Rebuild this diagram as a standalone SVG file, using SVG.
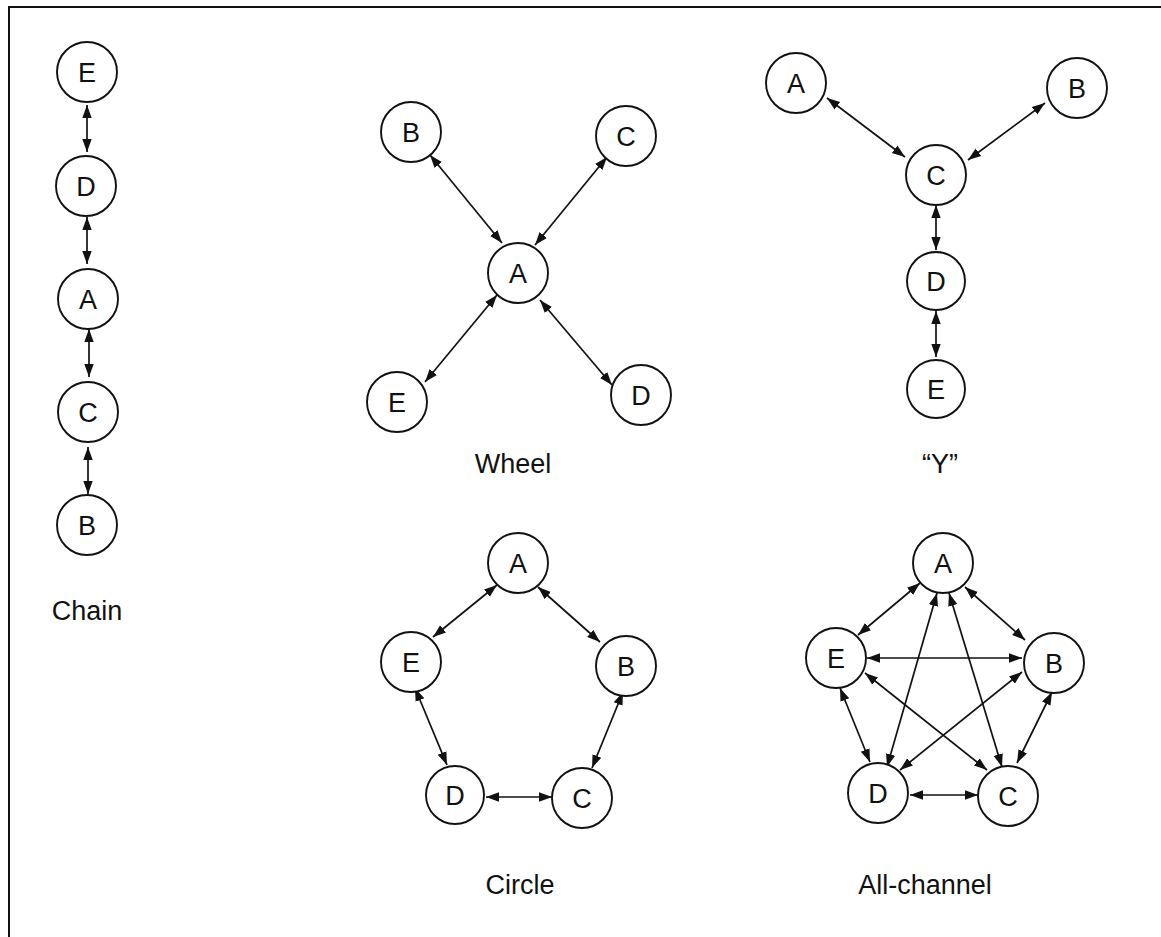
<svg xmlns="http://www.w3.org/2000/svg" width="1161" height="937" viewBox="0 0 1161 937">
<style>
.n circle{fill:#fff;stroke:#111;stroke-width:1.9}
.n text{font-family:"Liberation Sans",Arial,sans-serif;font-size:27px;fill:#111;text-anchor:middle}
.lbl{font-family:"Liberation Sans",Arial,sans-serif;font-size:27px;fill:#111;text-anchor:middle}
.c line{stroke:#111;stroke-width:1.7;marker-start:url(#ah);marker-end:url(#ah)}
</style>
<defs>
<marker id="ah" markerWidth="14" markerHeight="11" refX="13" refY="5.5" orient="auto-start-reverse" markerUnits="userSpaceOnUse"><path d="M0,0.8 L13,5.5 L0,10.2 z" fill="#111"/></marker>
</defs>
<rect width="1161" height="937" fill="#fff"/>
<g id="frame" stroke="#111" stroke-width="2" fill="none">
<line x1="8" y1="7" x2="1161" y2="7"/>
<line x1="9" y1="6" x2="9" y2="937"/>
</g>
<g id="connectors" class="c">
<line x1="87" y1="105" x2="87" y2="152"/>
<line x1="87" y1="217" x2="87" y2="264"/>
<line x1="89" y1="329" x2="89" y2="377"/>
<line x1="88" y1="447" x2="88" y2="494"/>
<line x1="430" y1="155" x2="502" y2="243"/>
<line x1="607" y1="157" x2="535" y2="245"/>
<line x1="497" y1="295" x2="425" y2="382"/>
<line x1="540" y1="300" x2="612" y2="385"/>
<line x1="827" y1="98" x2="905" y2="157"/>
<line x1="1045" y1="103" x2="968" y2="160"/>
<line x1="936" y1="205" x2="936" y2="250"/>
<line x1="936" y1="311" x2="936" y2="357"/>
<line x1="497" y1="585" x2="433" y2="637"/>
<line x1="538" y1="587" x2="600" y2="642"/>
<line x1="415" y1="688" x2="447" y2="765"/>
<line x1="623" y1="692" x2="592" y2="768"/>
<line x1="486" y1="797" x2="552" y2="797"/>
<line x1="920" y1="583" x2="858" y2="635"/>
<line x1="965" y1="587" x2="1025" y2="640"/>
<line x1="867" y1="658" x2="1022" y2="658"/>
<line x1="937" y1="593" x2="887" y2="767"/>
<line x1="949" y1="593" x2="1002" y2="767"/>
<line x1="865" y1="673" x2="987" y2="770"/>
<line x1="1022" y1="672" x2="900" y2="770"/>
<line x1="840" y1="688" x2="870" y2="762"/>
<line x1="1052" y1="692" x2="1017" y2="763"/>
<line x1="910" y1="795" x2="978" y2="795"/>
</g>
<g id="chain-E" class="n"><circle cx="87" cy="72" r="30"/><text x="87" y="82">E</text></g>
<g id="chain-D" class="n"><circle cx="86" cy="186" r="30"/><text x="86" y="196">D</text></g>
<g id="chain-A" class="n"><circle cx="88" cy="299" r="30"/><text x="88" y="309">A</text></g>
<g id="chain-C" class="n"><circle cx="88" cy="412" r="30"/><text x="88" y="422">C</text></g>
<g id="chain-B" class="n"><circle cx="87" cy="525" r="30"/><text x="87" y="535">B</text></g>
<g id="wheel-B" class="n"><circle cx="411" cy="132" r="30"/><text x="411" y="142">B</text></g>
<g id="wheel-C" class="n"><circle cx="626" cy="136" r="30"/><text x="626" y="146">C</text></g>
<g id="wheel-A" class="n"><circle cx="518" cy="273" r="30"/><text x="518" y="283">A</text></g>
<g id="wheel-E" class="n"><circle cx="397" cy="402" r="30"/><text x="397" y="412">E</text></g>
<g id="wheel-D" class="n"><circle cx="641" cy="395" r="30"/><text x="641" y="405">D</text></g>
<g id="y-A" class="n"><circle cx="796" cy="83" r="30"/><text x="796" y="93">A</text></g>
<g id="y-B" class="n"><circle cx="1077" cy="88" r="30"/><text x="1077" y="98">B</text></g>
<g id="y-C" class="n"><circle cx="936" cy="175" r="30"/><text x="936" y="185">C</text></g>
<g id="y-D" class="n"><circle cx="936" cy="281" r="29"/><text x="936" y="291">D</text></g>
<g id="y-E" class="n"><circle cx="936" cy="389" r="29"/><text x="936" y="399">E</text></g>
<g id="circle-A" class="n"><circle cx="518" cy="563" r="30"/><text x="518" y="573">A</text></g>
<g id="circle-E" class="n"><circle cx="411" cy="662" r="30"/><text x="411" y="672">E</text></g>
<g id="circle-B" class="n"><circle cx="626" cy="666" r="30"/><text x="626" y="676">B</text></g>
<g id="circle-D" class="n"><circle cx="455" cy="795" r="29"/><text x="455" y="805">D</text></g>
<g id="circle-C" class="n"><circle cx="582" cy="798" r="30"/><text x="582" y="808">C</text></g>
<g id="all-A" class="n"><circle cx="943" cy="563" r="30"/><text x="943" y="573">A</text></g>
<g id="all-E" class="n"><circle cx="836" cy="658" r="30"/><text x="836" y="668">E</text></g>
<g id="all-B" class="n"><circle cx="1054" cy="663" r="30"/><text x="1054" y="673">B</text></g>
<g id="all-D" class="n"><circle cx="878" cy="793" r="30"/><text x="878" y="803">D</text></g>
<g id="all-C" class="n"><circle cx="1008" cy="796" r="30"/><text x="1008" y="806">C</text></g>
<g id="labels">
<text class="lbl" x="87" y="620">Chain</text>
<text class="lbl" x="513" y="473">Wheel</text>
<text class="lbl" x="940" y="473">“Y”</text>
<text class="lbl" x="520" y="894">Circle</text>
<text class="lbl" x="925" y="894">All-channel</text>
</g>
</svg>
